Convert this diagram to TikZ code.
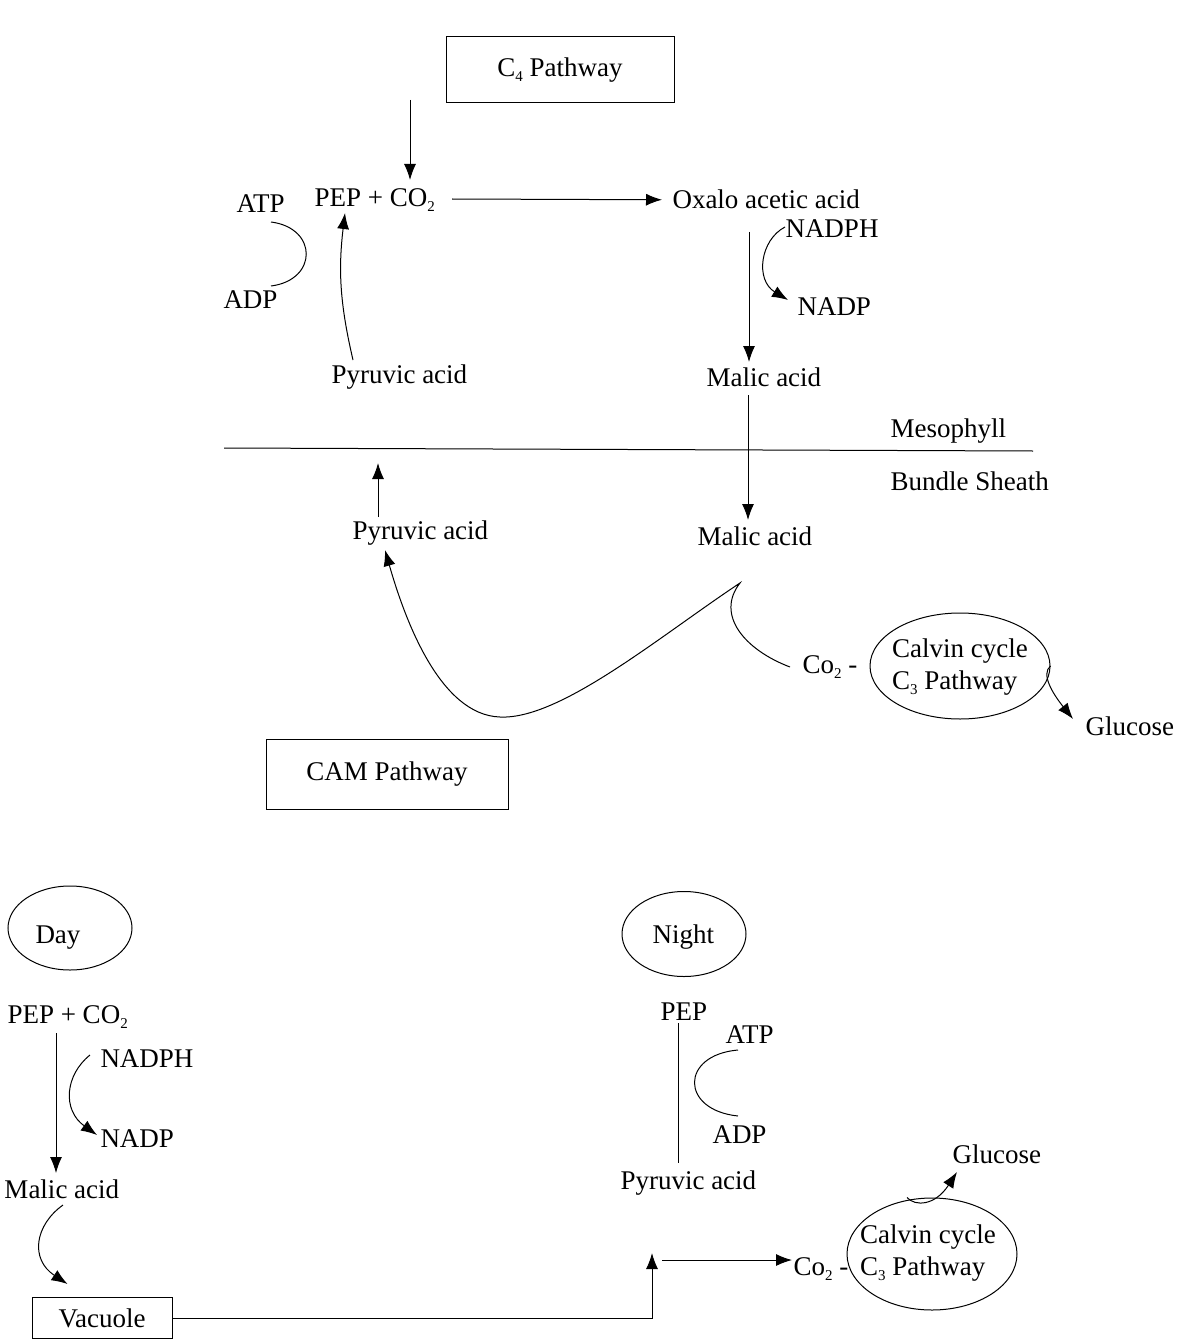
\documentclass[tikz,border=0pt]{standalone}
\usepackage{fontspec}
\setmainfont{Liberation Serif}
\usepackage{tikz}
\usetikzlibrary{positioning, arrows.meta, shapes.geometric}

\newcommand{\chemsub}[1]{\raisebox{-5pt}{\fontsize{15}{15}\selectfont #1}}

\tikzset{
  lbl/.style={anchor=base west, inner sep=0pt},
  box/.style={draw, inner sep=0pt},
  oval/.style={draw, ellipse, inner sep=0pt},
}

\begin{document}
\begin{tikzpicture}[x=1pt, y=-1pt, line width=1pt, >={Latex[length=16pt,width=12pt]},
  every node/.style={font=\fontsize{27}{32}\selectfont}]
  \useasboundingbox (0,0) rectangle (1182,1340);

  % C4 pathway, mesophyll
  \node[box, minimum width=228pt, minimum height=66pt] (c4) at (560,70) {C\chemsub{4} Pathway};
  \node[lbl] (pep1) at (314,207) {PEP + CO\chemsub{2}};
  \node[lbl] (oaa) at (672,209) {Oxalo acetic acid};
  \node[lbl] (atp1) at (236,213) {ATP};
  \node[lbl] (adp1) at (223,308) {ADP};
  \node[lbl] (pyr1) at (331,383) {Pyruvic acid};
  \node[lbl] (nadph1) at (785,238) {NADPH};
  \node[lbl] (nadp1) at (797,315) {NADP};
  \node[lbl] (mal1) at (706,386) {Malic acid};
  \coordinate (c4in) at (410,100);

  \draw[->] (c4in) -- ([shift={(96,-27)}]pep1.base west);
  \draw[->] ([shift={(138,-8)}]pep1.base west) -- ([xshift=-10pt]oaa.west);
  \draw ([shift={(35,9)}]atp1.base west) .. controls +(47,6) and +(47,-6) .. ([shift={(48,-22)}]adp1.base west);
  \draw[->] ([shift={(22,-23)}]pyr1.base west) to[bend left=10] ([shift={(31,6)}]pep1.base west);
  \draw[->] ([shift={(77,23)}]oaa.base west) -- ([shift={(43,-24)}]mal1.base west);
  \draw[->] ([shift={(0,-11)}]nadph1.base west) .. controls +(-25,13) and +(-33,-20) .. ([shift={(-9,-15)}]nadp1.base west);

  % mesophyll / bundle sheath
  \draw (224,448) -- (1033,451);
  \node[lbl] (meso) at (890,437) {Mesophyll};
  \node[lbl] (bundle) at (890,490) {Bundle Sheath};

  \node[lbl] (pyr2) at (352,539) {Pyruvic acid};
  \node[lbl] (mal2) at (697,545) {Malic acid};
  \node[lbl] (co2a) at (802,673) {Co\chemsub{2} -};
  \node[oval, minimum width=180pt, minimum height=106pt] (calv1) at (960,666) {};
  \node[align=left, inner sep=0pt] (calv1txt) at (960,667) {Calvin cycle\\C\chemsub{3} Pathway};
  \node[lbl] (gluc1) at (1085,735) {Glucose};
  \coordinate (mesoin) at (378,463);
  \coordinate (cusp) at (740,583);
  \coordinate (dip) at (500,717);

  \draw[->] ([shift={(42,9)}]mal1.base west) -- ([shift={(51,-25)}]mal2.base west);
  \draw[->] ([shift={(26,-22)}]pyr2.base west) -- (mesoin);
  \draw[->] ([shift={(-12,-6)}]co2a.base west) .. controls +(-45,-17) and +(-25,32) .. (cusp)
    .. controls +(-80,53) and +(60,3) .. (dip)
    .. controls +(-60,-2) and +(20,70) .. ([shift={(33,11)}]pyr2.base west);
  \draw[->] (calv1.east) .. controls +(-10,8) and +(-20,-25) .. ([shift={(-12,-16)}]gluc1.base west);

  % CAM pathway
  \node[box, minimum width=242pt, minimum height=70pt] (cam) at (387,774) {CAM Pathway};

  % day
  \node[oval, minimum width=124pt, minimum height=84pt] (day) at (70,928) {};
  \node[lbl] (daytxt) at (35,943) {Day};
  \node[lbl] (pep2) at (7,1023) {PEP + CO\chemsub{2}};
  \node[lbl] (nadph2) at (100,1067) {NADPH};
  \node[lbl] (nadp2) at (100,1147) {NADP};
  \node[lbl] (mal3) at (4,1198) {Malic acid};
  \node[box, minimum width=140pt, minimum height=41pt] (vac) at (102,1318) {Vacuole};
  \coordinate (vjoin) at (652,1253);

  \draw[->] ([shift={(49,10)}]pep2.base west) -- ([shift={(52,-25)}]mal3.base west);
  \draw[->] ([shift={(-10,-12)}]nadph2.base west) .. controls +(-25,20) and +(-35,-25) .. ([shift={(-3,-12)}]nadp2.base west);
  \draw[->] ([shift={(59,7)}]mal3.base west) .. controls +(-28,20) and +(-38,-25) .. ([shift={(36,-13)}]vac.north west);
  \draw[->] (vac.east) -| (vjoin);

  % night
  \node[oval, minimum width=124pt, minimum height=85pt] (night) at (684,934) {};
  \node[lbl] (nighttxt) at (652,943) {Night};
  \node[lbl] (pep3) at (660,1020) {PEP};
  \node[lbl] (atp2) at (725,1043) {ATP};
  \node[lbl] (adp2) at (712,1143) {ADP};
  \node[lbl] (pyr3) at (620,1189) {Pyruvic acid};
  \node[lbl] (co2b) at (793,1275) {Co\chemsub{2} -};
  \node[oval, minimum width=170pt, minimum height=112pt] (calv2) at (932,1254) {};
  \node[align=left, inner sep=0pt] (calv2txt) at (928,1253) {Calvin cycle\\C\chemsub{3} Pathway};
  \node[lbl] (gluc2) at (952,1163) {Glucose};

  \draw ([shift={(18,3)}]pep3.base west) -- ([shift={(58,-26)}]pyr3.base west);
  \draw ([shift={(13,7)}]atp2.base west) .. controls +(-58,5) and +(-58,-6) .. ([shift={(26,-27)}]adp2.base west);
  \draw[->] ([shift={(10,7)}]vjoin) -- ([shift={(-1,-15)}]co2b.base west);
  \draw[->] ([xshift=-25pt]calv2.north) .. controls +(8,9) and +(-22,34) .. ([shift={(5,9)}]gluc2.base west);
\end{tikzpicture}
\end{document}
